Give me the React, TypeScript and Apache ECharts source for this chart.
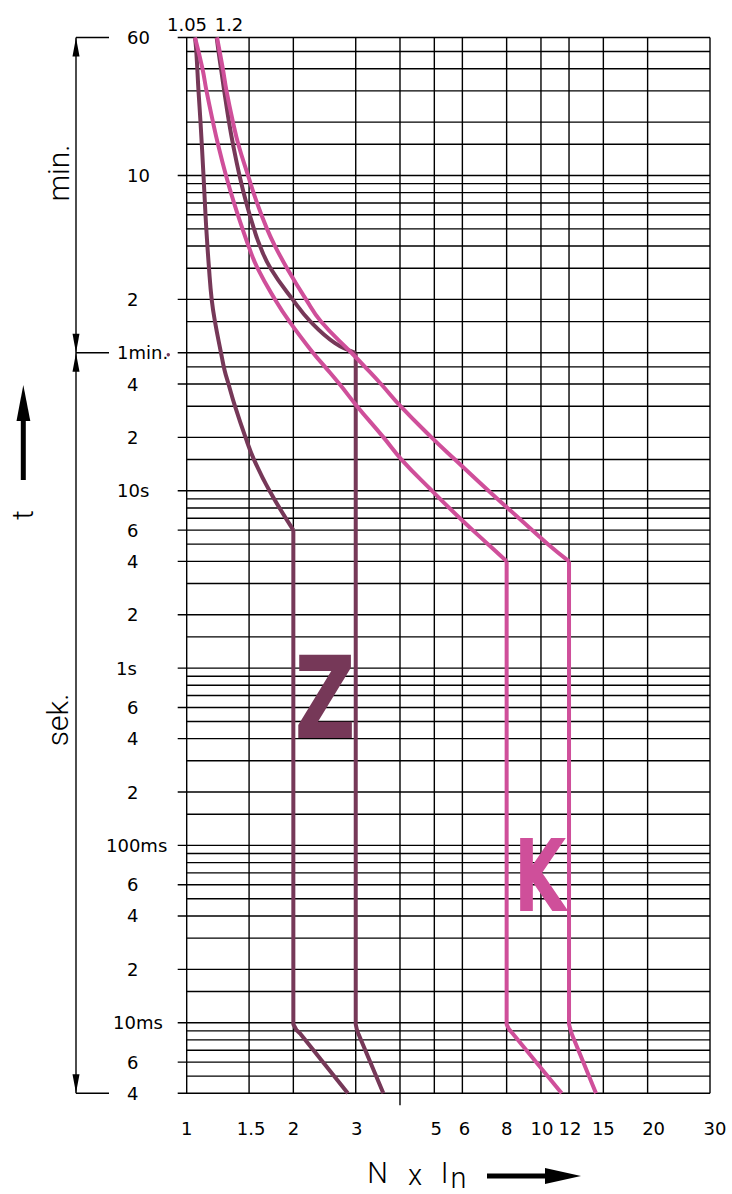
import React, { useEffect, useRef } from "react";
import * as echarts from "echarts";

// ---------- data ----------
const X_MIN = 1;
const X_MAX = 30;
const Y_MIN = 0.004; // seconds (4 ms)
const Y_MAX = 3600; // seconds (60 min)

const xGridValues = [1, 1.5, 2, 3, 4, 5, 6, 8, 10, 12, 15, 20, 30];
const xLongTickValues = [4];
const xLabelValues = [1, 1.5, 2, 3, 5, 6, 8, 10, 12, 15, 20, 30];
const xLabelTexts = ["1", "1.5", "2", "3", "5", "6", "8", "10", "12", "15", "20", "30"];

const yGridValues = [
  0.004, 0.005, 0.006, 0.007, 0.008, 0.009, 0.01, 0.015, 0.02, 0.03, 0.04, 0.05, 0.06, 0.07, 0.08, 0.09,
  0.1, 0.15, 0.2, 0.3, 0.4, 0.5, 0.6, 0.7, 0.8, 0.9, 1, 1.5, 2, 3, 4, 5, 6, 7, 8, 9, 10, 15, 20, 30, 40,
  50, 60, 90, 120, 180, 240, 300, 360, 420, 480, 540, 600, 900, 1200, 1800, 2400, 3000, 3600,
];
const yLabelValues = [3600, 600, 120, 60, 40, 20, 10, 6, 4, 2, 1, 0.6, 0.4, 0.2, 0.1, 0.06, 0.04, 0.02, 0.01, 0.006, 0.004];
const yLabelTexts = ["60", "10", "2", "1min.", "4", "2", "10s", "6", "4", "2", "1s", "6", "4", "2", "100ms", "6", "4", "2", "10ms", "6", "4"];

const topLabelValues = [1.05, 1.2];
const topLabelTexts = ["1.05", "1.2"];

// Z characteristic, [multiple of In, seconds]
const zLowerCurve = [
  [1.0554, 3600], [1.0644, 3000], [1.0797, 1800], [1.0939, 1200], [1.1153, 600], [1.13, 360], [1.1359, 300],
  [1.1559, 180], [1.1764, 120], [1.2018, 90], [1.2498, 60], [1.2786, 48], [1.3122, 40], [1.3687, 30],
  [1.4655, 20], [1.5486, 15], [1.713, 10], [2.0, 6],
];
const zLowerTail = [[2.0, 6], [2.0, 0.0098], [2.04, 0.0091], [2.09, 0.0087], [2.85, 0.004]];
const zUpperCurve = [
  [1.2152, 3600], [1.2298, 3000], [1.2498, 2400], [1.2761, 1800], [1.3165, 1200], [1.351, 900], [1.4093, 600],
  [1.4733, 420], [1.5486, 300], [1.6101, 240], [1.7242, 180], [1.99, 120], [2.236, 90], [2.6224, 68], [3.0, 60],
];
const zUpperTail = [[3.0, 60], [3.0, 0.0098], [3.02, 0.0092], [3.05, 0.0087], [3.59, 0.004]];

// K characteristic
const kLowerCurve = [
  [1.0554, 3600], [1.108, 2400], [1.1373, 1800], [1.1864, 1200], [1.2256, 900], [1.291, 600], [1.36, 420],
  [1.4373, 300], [1.4945, 240], [1.5843, 180], [1.7752, 120], [1.9509, 90], [2.2727, 60], [2.4575, 50],
  [2.6997, 40], [3.0249, 30], [3.5935, 20], [4.0394, 15], [4.9237, 10], [5.9062, 7], [7.0865, 5], [8.0, 4],
];
const kLowerTail = [[8.0, 4], [8.0, 0.0098], [8.12, 0.0092], [8.32, 0.0087], [11.44, 0.004]];
const kUpperCurve = [
  [1.2176, 3600], [1.2645, 2400], [1.2952, 1800], [1.351, 1200], [1.3985, 900], [1.4896, 600], [1.5792, 420],
  [1.6852, 300], [1.7752, 240], [1.9192, 180], [2.1713, 120], [2.3934, 90], [2.9183, 60], [3.1855, 50],
  [3.5354, 40], [4.0131, 30], [4.9077, 20], [5.7176, 15], [7.1095, 10], [8.6679, 7], [10.465, 5], [12.0, 4],
];
const kUpperTail = [[12.0, 4], [12.0, 0.0098], [12.1, 0.0092], [12.2, 0.0087], [14.3, 0.004]];

const dimMinTop = 3600;
const dimMinBottom = 60;

// ---------- styles / layout ----------
const Z_COLOR = "#763858";
const K_COLOR = "#cf4f9a";
const GRID_COLOR = "#000";
const LABEL_FONT = '"DejaVu Sans", sans-serif';
const THIN_FONT = 'Roboto, "DejaVu Sans", sans-serif';
const yLabelLeft = [127, 127, 127, 117, 127, 127, 117, 127, 127, 127, 116, 127, 127, 127, 106, 127, 127, 127, 113, 127, 127];
const xLabelShift = [0, 2, 0, 1, 2, 2, 0, 1, 1, 0, 6, 5];
const topLabelCenterX = [187, 229];

export default function App() {
  const ref = useRef<HTMLDivElement>(null);

  useEffect(() => {
    document.body.style.margin = "0";
    if (!ref.current) return;
    const chart = echarts.init(ref.current, null, { renderer: "svg" });

    const curveSeries = (data: number[][], color: string, smooth: boolean) => ({
      type: "line",
      data,
      smooth: smooth ? 0.45 : false,
      symbol: "none",
      silent: true,
      lineStyle: { color, width: 4, join: "round", cap: "butt" },
      z: 5,
    });

    chart.setOption({
      animation: false,
      backgroundColor: "#fff",
      grid: { left: 186.7, right: 22, top: 37.5, bottom: 100.7 },
      xAxis: {
        type: "log",
        logBase: 10,
        min: X_MIN,
        max: X_MAX,
        axisLine: { show: false },
        axisTick: { show: false },
        axisLabel: { show: false },
        splitLine: { show: false },
      },
      yAxis: {
        type: "log",
        logBase: 10,
        min: Y_MIN,
        max: Y_MAX,
        axisLine: { show: false },
        axisTick: { show: false },
        axisLabel: { show: false },
        splitLine: { show: false },
      },
      series: [
        {
          type: "custom",
          silent: true,
          z: 1,
          data: yGridValues.map((v) => [X_MIN, v, yLabelValues.indexOf(v) >= 0 ? 1 : 0]),
          renderItem: (_p: any, api: any) => {
            const v = api.value(1);
            const a = api.coord([X_MIN, v]);
            const b = api.coord([X_MAX, v]);
            const ext = api.value(2) ? 9 : 0;
            return {
              type: "line",
              shape: { x1: a[0] - ext, y1: a[1], x2: b[0], y2: b[1] },
              style: { stroke: GRID_COLOR, lineWidth: 1.4 },
            };
          },
        },
        {
          type: "custom",
          silent: true,
          z: 1,
          data: xGridValues.map((v) => [v, Y_MAX, xLongTickValues.indexOf(v) >= 0 ? 1 : 0]),
          renderItem: (_p: any, api: any) => {
            const v = api.value(0);
            const a = api.coord([v, Y_MAX]);
            const b = api.coord([v, Y_MIN]);
            const ext = api.value(2) ? 12 : 0;
            return {
              type: "line",
              shape: { x1: a[0], y1: a[1], x2: b[0], y2: b[1] + ext },
              style: { stroke: GRID_COLOR, lineWidth: 1.4 },
            };
          },
        },
        curveSeries(zLowerCurve, Z_COLOR, true),
        curveSeries(zLowerTail, Z_COLOR, false),
        curveSeries(zUpperCurve, Z_COLOR, true),
        curveSeries(zUpperTail, Z_COLOR, false),
        curveSeries(kLowerCurve, K_COLOR, true),
        curveSeries(kLowerTail, K_COLOR, false),
        curveSeries(kUpperCurve, K_COLOR, true),
        curveSeries(kUpperTail, K_COLOR, false),
      ],
    });

    const px = (x: number, y: number) => chart.convertToPixel({ gridIndex: 0 }, [x, y]) as number[];
    const graphic: any[] = [];

    const txt = (text: string, x: number, y: number, opts: any = {}) => ({
      type: "text",
      x,
      y,
      rotation: opts.rotation || 0,
      scaleX: opts.scaleX || 1,
      silent: true,
      z: 10,
      style: {
        text,
        fill: opts.fill || "#000",
        fontSize: opts.fontSize || 18,
        fontFamily: opts.fontFamily || LABEL_FONT,
        fontWeight: opts.fontWeight || "normal",
        textAlign: opts.align || "center",
        textVerticalAlign: "middle",
      },
    });

    // y labels
    yLabelValues.forEach((v, i) => {
      const p = px(X_MIN, v);
      graphic.push(txt(yLabelTexts[i], yLabelLeft[i], p[1], { align: "left" }));
    });
    // stray dot after "1min."
    {
      const p = px(X_MIN, 60);
      graphic.push({ type: "circle", shape: { cx: 168.3, cy: p[1] + 2, r: 1.7 }, style: { fill: Z_COLOR }, silent: true, z: 10 });
    }
    // x labels
    xLabelValues.forEach((v, i) => {
      const p = px(v, Y_MIN);
      graphic.push(txt(xLabelTexts[i], p[0] + xLabelShift[i], 1128));
    });
    // top labels
    topLabelValues.forEach((_v, i) => {
      graphic.push(txt(topLabelTexts[i], topLabelCenterX[i], 24));
    });

    // dimension lines on the left
    const yTop = px(X_MIN, dimMinTop)[1];
    const yMid = px(X_MIN, dimMinBottom)[1];
    const yBot = px(X_MIN, Y_MIN)[1];
    const dx = 76;
    const lineStyle = { stroke: "#000", lineWidth: 1.4 };
    graphic.push({ type: "line", shape: { x1: dx, y1: yTop, x2: dx, y2: yBot }, style: lineStyle, silent: true });
    [yTop, yMid, yBot].forEach((yy) => {
      graphic.push({ type: "line", shape: { x1: dx, y1: yy, x2: 109, y2: yy }, style: lineStyle, silent: true });
    });
    const arrow = (tipY: number, dir: number) => ({
      type: "polygon",
      silent: true,
      shape: { points: [[dx, tipY], [dx - 3.5, tipY + dir * 19], [dx + 3.5, tipY + dir * 19]] },
      style: { fill: "#000" },
    });
    graphic.push(arrow(yTop, 1), arrow(yMid, -1), arrow(yMid, 1), arrow(yBot, -1));

    graphic.push(txt("min.", 58, 173, { rotation: Math.PI / 2, fontSize: 30, fontFamily: THIN_FONT, fontWeight: 300 }));
    graphic.push(txt("sek.", 57, 720, { rotation: Math.PI / 2, fontSize: 30, fontFamily: THIN_FONT, fontWeight: 300 }));
    graphic.push(txt("t", 22, 515, { rotation: Math.PI / 2, fontSize: 30, fontFamily: THIN_FONT, fontWeight: 300 }));

    // thick "t" arrow
    graphic.push({ type: "rect", silent: true, shape: { x: 20.8, y: 418, width: 5, height: 62 }, style: { fill: "#000" } });
    graphic.push({
      type: "polygon",
      silent: true,
      shape: { points: [[23.3, 385], [16.5, 421], [30.3, 421]] },
      style: { fill: "#000" },
    });

    // N x In
    graphic.push(txt("N", 377.5, 1173, { fontSize: 29, fontFamily: THIN_FONT, fontWeight: 300 }));
    graphic.push(txt("x", 415, 1175, { fontSize: 29, fontFamily: THIN_FONT, fontWeight: 300 }));
    graphic.push(txt("I", 444.5, 1173, { fontSize: 29, fontFamily: THIN_FONT, fontWeight: 300 }));
    graphic.push(txt("n", 458.5, 1178, { fontSize: 29, fontFamily: THIN_FONT, fontWeight: 300 }));
    graphic.push({ type: "rect", silent: true, shape: { x: 487, y: 1173.5, width: 60, height: 5 }, style: { fill: "#000" } });
    graphic.push({
      type: "polygon",
      silent: true,
      shape: { points: [[545, 1168], [581, 1176], [545, 1184]] },
      style: { fill: "#000" },
    });

    // Z and K letters
    graphic.push(txt("Z", 325, 699, { fontSize: 114, fontWeight: "bold", fill: Z_COLOR, scaleX: 0.74 }));
    graphic.push(txt("K", 540, 877, { fontSize: 99, fontWeight: "bold", fill: K_COLOR, scaleX: 0.68 }));

    chart.setOption({ graphic });

    return () => chart.dispose();
  }, []);

  return <div ref={ref} style={{ width: 732, height: 1194 }} />;
}
